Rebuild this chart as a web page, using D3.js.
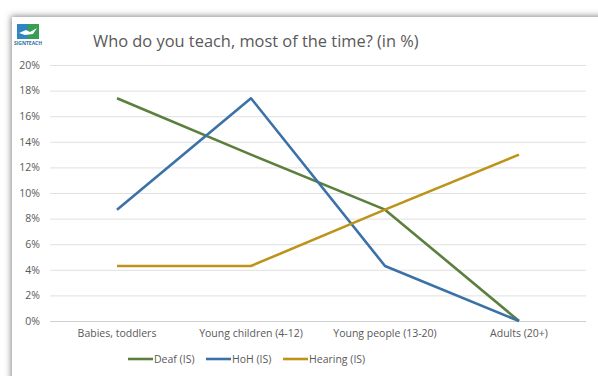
<!DOCTYPE html>
<html>
<head>
<meta charset="utf-8">
<script src="https://cdn.jsdelivr.net/npm/d3@7"></script>
<style>
  html, body { margin: 0; padding: 0; background: #fff; }
  svg text { font-family: "Open Sans", "DejaVu Sans", sans-serif; fill: #595959; }
</style>
</head>
<body>
<div id="chart"></div>
<script>
const categories = ['Babies, toddlers', 'Young children (4-12)', 'Young people (13-20)', 'Adults (20+)'];
const deaf = [17.4, 13.0, 8.7, 0];
const hoh = [8.7, 17.4, 4.3, 0];
const hearing = [4.3, 4.3, 8.7, 13.0];
const yTicks = [0, 2, 4, 6, 8, 10, 12, 14, 16, 18, 20];

const series = [
    { name: 'Deaf (IS)', values: deaf, color: '#5b7f3c' },
    { name: 'HoH (IS)', values: hoh, color: '#3a72a8' },
    { name: 'Hearing (IS)', values: hearing, color: '#bd9419' }
];

const width = 598, height = 376;

const svg = d3.select('#chart').append('svg')
    .attr('width', width)
    .attr('height', height);

// panel with soft shadow on top/left
const defs = svg.append('defs');
const f = defs.append('filter').attr('id', 'shadow')
    .attr('x', '-5%').attr('y', '-5%').attr('width', '110%').attr('height', '110%');
f.append('feDropShadow')
    .attr('dx', -1).attr('dy', -1)
    .attr('stdDeviation', 3)
    .attr('flood-color', '#6a6a6a')
    .attr('flood-opacity', 0.8);

svg.append('rect')
    .attr('x', 12).attr('y', 17)
    .attr('width', 620).attr('height', 400)
    .attr('fill', '#fff')
    .attr('filter', 'url(#shadow)');

// logo
const logo = svg.append('g').attr('transform', 'translate(17,24)');
logo.append('rect').attr('x', 0).attr('y', 0).attr('width', 11).attr('height', 15).attr('fill', '#2f86c0');
logo.append('rect').attr('x', 11).attr('y', 0).attr('width', 11).attr('height', 15).attr('fill', '#3a9e52');
logo.append('path').attr('d', 'M2,9 L9,6 L13,8 L20,4 L16,10 L8,11 Z').attr('fill', '#fff');
logo.append('text').attr('x', 11).attr('y', 21)
    .attr('text-anchor', 'middle')
    .style('font-size', '5px').style('font-weight', 'bold').style('fill', '#2f6fa0')
    .text('SIGNTEACH');

// title
svg.append('text')
    .attr('x', 93).attr('y', 47)
    .style('font-size', '16.4px')
    .text('Who do you teach, most of the time? (in %)');

const x = d3.scaleBand()
    .domain(categories)
    .range([50, 586]);

const y = d3.scaleLinear()
    .domain([0, 20])
    .range([321, 65]);

// gridlines
svg.append('g')
    .selectAll('line')
    .data(yTicks)
    .join('line')
    .attr('x1', 50).attr('x2', 586)
    .attr('y1', d => y(d) + 0.5).attr('y2', d => y(d) + 0.5)
    .attr('stroke', d => d === 0 ? '#d0d0d0' : '#e0e0e0')
    .attr('stroke-width', 1);

// y axis labels
const yAxis = d3.axisLeft(y)
    .tickValues(yTicks)
    .tickFormat(d => d + '%')
    .tickSize(0)
    .tickPadding(0);
const yg = svg.append('g')
    .attr('transform', 'translate(40,0)')
    .call(yAxis);
yg.select('.domain').remove();
yg.selectAll('text').style('font-size', '10.5px').style('fill', '#595959')
    .style('font-family', '"Open Sans", sans-serif');

// x axis labels
const xAxis = d3.axisBottom(x).tickSize(0).tickPadding(0);
const xg = svg.append('g')
    .attr('transform', 'translate(0,321)')
    .call(xAxis);
xg.select('.domain').remove();
xg.selectAll('text')
    .attr('dy', '1.55em')
    .style('font-size', '10.5px').style('fill', '#595959')
    .style('font-family', '"Open Sans", sans-serif');

// lines
const line = d3.line()
    .x((d, i) => x(categories[i]) + x.bandwidth() / 2)
    .y(d => y(d));

svg.append('g')
    .selectAll('path')
    .data(series)
    .join('path')
    .attr('fill', 'none')
    .attr('stroke', d => d.color)
    .attr('stroke-width', 2.6)
    .attr('stroke-linejoin', 'round')
    .attr('d', d => line(d.values));

// legend
const legendX = [128, 206, 283];
const legend = svg.append('g')
    .selectAll('g')
    .data(series)
    .join('g')
    .attr('transform', (d, i) => `translate(${legendX[i]},359)`);
legend.append('line')
    .attr('x1', 0).attr('x2', 25)
    .attr('stroke', d => d.color)
    .attr('stroke-width', 2.6);
legend.append('text')
    .attr('x', 26).attr('y', 4)
    .style('font-size', '10.5px')
    .text(d => d.name);
</script>
</body>
</html>
